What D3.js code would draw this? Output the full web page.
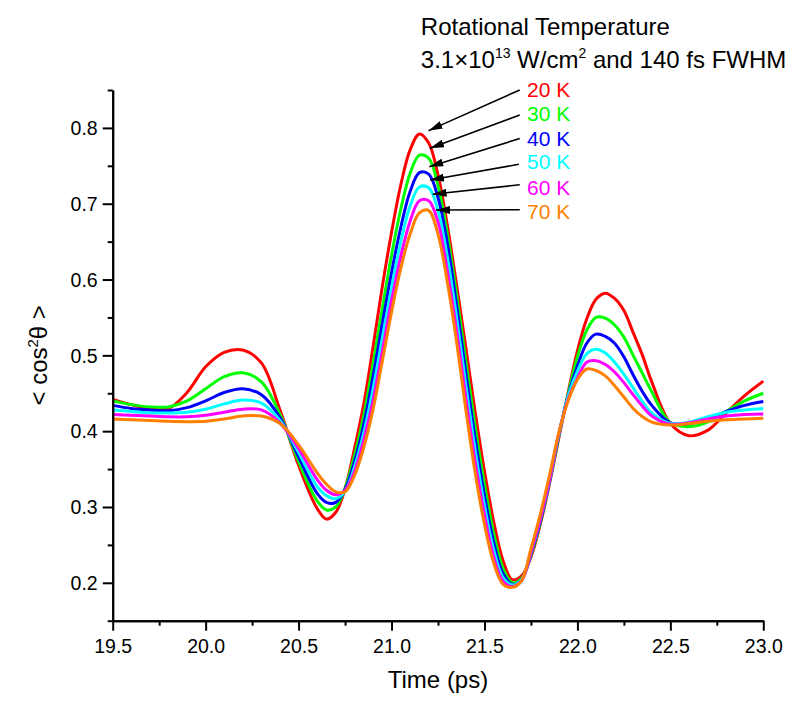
<!DOCTYPE html>
<html>
<head>
<meta charset="utf-8">
<script src="https://cdn.jsdelivr.net/npm/d3@7/dist/d3.min.js"></script>
<style>
  html, body { margin: 0; padding: 0; background: #fff; }
  svg { display: block; font-family: "Liberation Sans", Arial, sans-serif; }
</style>
</head>
<body>
<svg id="chart" width="792" height="701"></svg>
<script>
// ---- data ----
const time = [19.5,19.6,19.7,19.8,19.9,20.0,20.1,20.2,20.3,20.4,20.5,20.6,
  20.65,20.7,20.75,20.8,20.85,20.9,20.95,21.0,21.05,21.1,21.15,21.2,21.25,21.3,21.35,21.4,
  21.45,21.5,21.55,21.6,21.65,21.7,21.75,21.8,21.85,21.9,21.95,22.0,22.05,22.1,22.15,22.2,
  22.25,22.3,22.35,22.4,22.5,22.6,22.7,22.8,22.9,23.0];

const k20 = [0.442,0.435,0.430,0.430,0.451,0.485,0.504,0.507,0.490,0.428,0.355,0.298,
  0.284,0.293,0.324,0.376,0.435,0.510,0.590,0.662,0.725,0.771,0.792,0.780,0.738,0.672,0.593,0.510,
  0.425,0.347,0.280,0.229,0.204,0.209,0.234,0.277,0.331,0.391,0.451,0.506,0.548,0.574,0.582,0.575,
  0.559,0.530,0.500,0.465,0.410,0.394,0.401,0.424,0.447,0.466];
const k30 = [0.440,0.435,0.432,0.432,0.440,0.456,0.472,0.477,0.465,0.422,0.360,0.308,
  0.296,0.300,0.325,0.367,0.420,0.488,0.561,0.632,0.693,0.740,0.764,0.760,0.724,0.660,0.580,0.492,
  0.406,0.330,0.265,0.219,0.200,0.206,0.236,0.279,0.333,0.393,0.449,0.498,0.533,0.550,0.549,0.540,
  0.524,0.500,0.476,0.452,0.411,0.406,0.412,0.426,0.440,0.450];
const k40 = [0.434,0.430,0.428,0.427,0.431,0.440,0.451,0.456,0.448,0.418,0.366,0.318,
  0.306,0.306,0.323,0.359,0.408,0.471,0.541,0.609,0.669,0.716,0.741,0.739,0.708,0.648,0.566,0.476,
  0.390,0.315,0.253,0.212,0.198,0.204,0.238,0.281,0.334,0.395,0.447,0.486,0.516,0.528,0.525,0.516,
  0.498,0.474,0.452,0.434,0.411,0.410,0.416,0.426,0.434,0.439];
const k50 = [0.428,0.426,0.424,0.424,0.425,0.429,0.436,0.441,0.437,0.414,0.372,0.327,
  0.315,0.311,0.321,0.352,0.397,0.455,0.522,0.589,0.650,0.697,0.722,0.721,0.691,0.630,0.550,0.460,
  0.375,0.302,0.243,0.207,0.197,0.204,0.240,0.284,0.336,0.396,0.446,0.479,0.502,0.508,0.503,0.491,
  0.475,0.457,0.439,0.424,0.410,0.412,0.419,0.425,0.428,0.430];
const k60 = [0.422,0.421,0.420,0.419,0.419,0.421,0.425,0.429,0.428,0.411,0.377,0.336,
  0.322,0.316,0.322,0.346,0.388,0.440,0.505,0.572,0.631,0.677,0.704,0.704,0.676,0.612,0.533,0.444,
  0.360,0.290,0.234,0.202,0.195,0.203,0.240,0.284,0.336,0.397,0.442,0.470,0.491,0.493,0.488,0.478,
  0.464,0.448,0.433,0.420,0.409,0.411,0.416,0.420,0.422,0.4225];
const k70 = [0.416,0.415,0.414,0.413,0.4125,0.413,0.416,0.420,0.420,0.410,0.382,0.345,
  0.330,0.320,0.320,0.341,0.378,0.428,0.492,0.557,0.615,0.660,0.688,0.691,0.660,0.597,0.518,0.428,
  0.345,0.277,0.226,0.198,0.194,0.203,0.245,0.290,0.342,0.398,0.440,0.468,0.482,0.480,0.473,0.460,
  0.445,0.430,0.419,0.412,0.408,0.410,0.413,0.415,0.416,0.417];

const seriesNames = ["20 K","30 K","40 K","50 K","60 K","70 K"];
const seriesValues = [k20,k30,k40,k50,k60,k70];
const seriesColors = ["#ff0000","#00ff00","#0000ff","#00ffff","#ff00ff","#ff8000"];

const xTicks = [19.5,20.0,20.5,21.0,21.5,22.0,22.5,23.0];
const xMinor = [19.75,20.25,20.75,21.25,21.75,22.25,22.75];
const yTicks = [0.2,0.3,0.4,0.5,0.6,0.7,0.8];
const yMinor = [0.15,0.25,0.35,0.45,0.55,0.65,0.75,0.85];

// annotation arrows (data coordinates): tail -> head, and label anchor
const arrowTailT = [21.69,21.69,21.69,21.685,21.69,21.69];
const arrowTailV = [0.850,0.817,0.786,0.752,0.725,0.692];
const arrowHeadT = [21.199,21.207,21.203,21.207,21.221,21.239];
const arrowHeadV = [0.7964,0.7731,0.7489,0.7313,0.7125,0.6917];
const labelT = 21.729;
const labelV = [0.8412,0.8095,0.7766,0.7454,0.7119,0.6795];

// ---- layout ----
const svg = d3.select("#chart");
const x = d3.scaleLinear().domain([19.5, 23.0]).range([112.7, 763.3]);
const y = d3.scaleLinear().domain([0.15, 0.85]).range([620.7, 90]);

const axisColor = "#000";

// curves
const line = d3.line()
  .x((d, i) => x(time[i]))
  .y(d => y(d))
  .curve(d3.curveCatmullRom.alpha(0.5));

const gLines = svg.append("g");
seriesValues.forEach((vals, s) => {
  gLines.append("path")
    .datum(vals)
    .attr("d", line)
    .attr("fill", "none")
    .attr("stroke", seriesColors[s])
    .attr("stroke-width", 3)
    .attr("stroke-linejoin", "round");
});

// axes
const xAxis = d3.axisBottom(x).tickValues(xTicks).tickFormat(d3.format(".1f"))
  .tickSize(10).tickSizeOuter(0);
const xAxisMinor = d3.axisBottom(x).tickValues(xMinor).tickFormat("").tickSize(5).tickSizeOuter(0);
const yAxis = d3.axisLeft(y).tickValues(yTicks).tickFormat(d3.format(".1f"))
  .tickSize(10).tickSizeOuter(0);
const yAxisMinor = d3.axisLeft(y).tickValues(yMinor).tickFormat("").tickSize(5).tickSizeOuter(0);

function styleAxis(g) {
  g.select(".domain").attr("stroke", axisColor).attr("stroke-width", 2);
  g.selectAll(".tick line").attr("stroke", axisColor).attr("stroke-width", 2);
  g.selectAll(".tick text").attr("fill", "#000").style("font-size", "19.5px")
    .style("font-family", "\"Liberation Sans\", Arial, sans-serif");
}

svg.append("g").attr("transform", `translate(0,${y(0.15)})`).call(xAxisMinor).call(styleAxis);
const gx = svg.append("g").attr("transform", `translate(0,${y(0.15)})`).call(xAxis).call(styleAxis);
gx.selectAll(".tick text").attr("dy", null).attr("y", 32);

svg.append("g").attr("transform", `translate(${x(19.5)},0)`).call(yAxisMinor).call(styleAxis);
const gy = svg.append("g").attr("transform", `translate(${x(19.5)},0)`).call(yAxis).call(styleAxis);
gy.selectAll(".tick text").attr("x", -15).attr("dy", "0.35em");

// axis titles
svg.append("text")
  .attr("x", (x(19.5) + x(23.0)) / 2)
  .attr("y", 688)
  .attr("text-anchor", "middle")
  .style("font-size", "24px")
  .text("Time (ps)");

const yl = svg.append("text")
  .attr("transform", `translate(47,${(y(0.15) + y(0.85)) / 2}) rotate(-90)`)
  .attr("text-anchor", "middle")
  .style("font-size", "24px");
yl.append("tspan").text("< cos");
yl.append("tspan").attr("dy", -9).style("font-size", "15px").text("2");
yl.append("tspan").attr("dy", 9).text("θ >");

// title
svg.append("text").attr("x", 420.8).attr("y", 35).style("font-size", "24px")
  .text("Rotational Temperature");
const t2 = svg.append("text").attr("x", 420.8).attr("y", 68.3).style("font-size", "24px");
t2.append("tspan").text("3.1×10");
t2.append("tspan").attr("dy", -10).style("font-size", "14px").text("13");
t2.append("tspan").attr("dy", 10).text(" W/cm");
t2.append("tspan").attr("dy", -10).style("font-size", "14px").text("2");
t2.append("tspan").attr("dy", 10).text(" and 140 fs FWHM");

// arrow annotations
const defs = svg.append("defs");
defs.append("marker")
  .attr("id", "ah")
  .attr("viewBox", "0 0 14 8")
  .attr("refX", 14).attr("refY", 4)
  .attr("markerWidth", 14).attr("markerHeight", 8)
  .attr("markerUnits", "userSpaceOnUse")
  .attr("orient", "auto")
  .append("path").attr("d", "M0,0 L14,4 L0,8 Z").attr("fill", "#000");

seriesNames.forEach((name, i) => {
  svg.append("line")
    .attr("x1", x(arrowTailT[i])).attr("y1", y(arrowTailV[i]))
    .attr("x2", x(arrowHeadT[i])).attr("y2", y(arrowHeadV[i]))
    .attr("stroke", "#000").attr("stroke-width", 1.6)
    .attr("marker-end", "url(#ah)");
  svg.append("text")
    .attr("x", x(labelT)).attr("y", y(labelV[i]))
    .attr("fill", seriesColors[i])
    .style("font-size", "21px")
    .text(name);
});
</script>
</body>
</html>
